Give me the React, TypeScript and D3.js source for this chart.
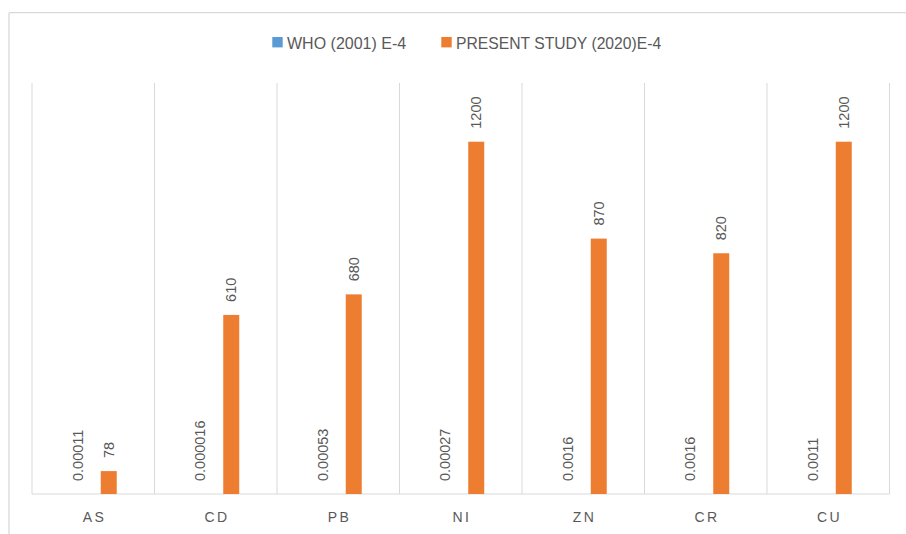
import React from "react";
import * as d3 from "d3";

const categories = ["AS", "CD", "PB", "NI", "ZN", "CR", "CU"];
const seriesNames = ["WHO (2001) E-4", "PRESENT STUDY (2020)E-4"];
const whoValues = [0.00011, 0.000016, 0.00053, 0.00027, 0.0016, 0.0016, 0.0011];
const whoLabels = ["0.00011", "0.000016", "0.00053", "0.00027", "0.0016", "0.0016", "0.0011"];
const presentValues = [78, 610, 680, 1200, 870, 820, 1200];
const presentLabels = ["78", "610", "680", "1200", "870", "820", "1200"];
const seriesColors = ["#5B9BD5", "#ED7D31"];
const yDomain = [0, 1400];

const W = 906;
const H = 534;
const plot = { left: 32, right: 889.5, top: 83, bottom: 494 };
const FONT = "'Liberation Sans', Arial, sans-serif";
const TEXT = "#595959";
const GRID = "#D9D9D9";

export default function App() {
  const x0 = d3.scaleBand<string>().domain(categories).range([plot.left, plot.right]).padding(0);
  const x1 = d3.scaleBand<string>().domain(seriesNames).range([-23.5, 23.5]).paddingInner(15 / 31).paddingOuter(0);
  const y = d3.scaleLinear().domain(yDomain).range([plot.bottom, plot.top]);
  const series = [
    { name: seriesNames[0], values: whoValues, labels: whoLabels, color: seriesColors[0] },
    { name: seriesNames[1], values: presentValues, labels: presentLabels, color: seriesColors[1] },
  ];
  const boundaries = categories.map((c) => x0(c)!).concat([plot.right]);
  const labelGap = 13;

  return (
    <svg width={W} height={H} style={{ position: "absolute", left: 0, top: 0, background: "#fff" }} fontFamily={FONT}>
      <rect x={0} y={0} width={W} height={H} fill="#fff" />
      {/* outer chart frame */}
      <line x1={9} x2={W} y1={12.7} y2={12.7} stroke={GRID} strokeWidth={1.3} />
      <line x1={9} x2={9} y1={12.7} y2={H} stroke={GRID} strokeWidth={1.3} />

      {/* legend */}
      <g>
        <rect x={272.3} y={37} width={10.4} height={10.4} fill={seriesColors[0]} />
        <text x={287} y={48.5} fontSize={16} fill={TEXT}>{seriesNames[0]}</text>
        <rect x={441.3} y={37} width={10.4} height={10.4} fill={seriesColors[1]} />
        <text x={456} y={48.5} fontSize={15.7} fill={TEXT}>{seriesNames[1]}</text>
      </g>

      {/* vertical gridlines at category boundaries */}
      {boundaries.map((bx, i) => (
        <line key={i} x1={bx} x2={bx} y1={plot.top} y2={plot.bottom} stroke={GRID} strokeWidth={1} />
      ))}
      {/* baseline */}
      <line x1={plot.left} x2={plot.right} y1={plot.bottom} y2={plot.bottom} stroke={GRID} strokeWidth={1.2} />

      {/* bars */}
      {categories.map((c, ci) => {
        const cx = x0(c)! + x0.bandwidth() / 2;
        return (
          <g key={c}>
            {series.map((s) => {
              const bx = cx + x1(s.name)!;
              const bw = x1.bandwidth();
              const top = y(s.values[ci]);
              const mid = bx + bw / 2;
              const ly = top - labelGap;
              return (
                <g key={s.name}>
                  <rect x={bx} y={top} width={bw} height={plot.bottom - top} fill={s.color} />
                  <text
                    transform={`translate(${mid},${ly}) rotate(-90)`}
                    dy="0.36em"
                    fontSize={14.5}
                    fill={TEXT}
                    textAnchor="start"
                  >
                    {s.labels[ci]}
                  </text>
                </g>
              );
            })}
            <text
              x={cx + 1.25}
              y={522}
              fontSize={14}
              letterSpacing={2.5}
              fill={TEXT}
              textAnchor="middle"
            >
              {c}
            </text>
          </g>
        );
      })}
    </svg>
  );
}
